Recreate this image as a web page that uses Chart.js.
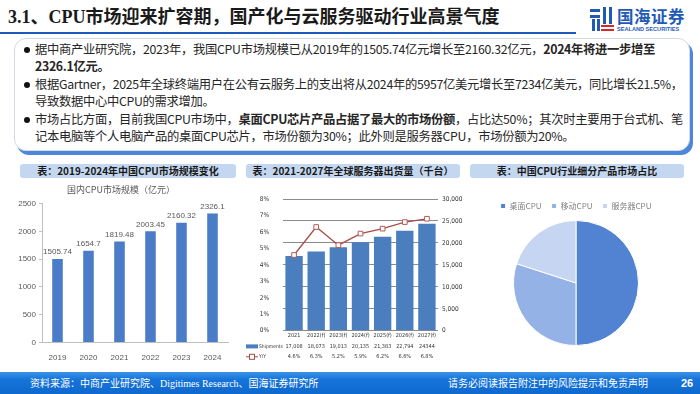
<!DOCTYPE html>
<html>
<head>
<meta charset="utf-8">
<script src="https://cdn.jsdelivr.net/npm/chart.js@4.4.1/dist/chart.umd.min.js"></script>
<style>
html, body { margin: 0; padding: 0; background: #fff; }
body { width: 700px; height: 394px; position: relative; overflow: hidden;
  font-family: "Noto Sans CJK SC", "Noto Sans", sans-serif; color: #262626; }
.title { position: absolute; left: 8px; top: 4px; font-size: 18px; font-weight: bold; line-height: 26px;
  font-family: "Liberation Serif", "Noto Sans CJK SC", serif; color: #1a1a1a; white-space: nowrap; }
.title-line { position: absolute; left: 0; top: 32px; width: 576px; height: 2px; background: #1d5cb6; }
.logo { position: absolute; left: 590px; top: 7px; width: 108px; height: 28px; }
.logo .cn { position: absolute; left: 27px; top: -3px; font-size: 16.5px; font-weight: bold; color: #1f5bb5; letter-spacing: 0.5px; }
.logo .en { position: absolute; left: 27px; top: 19px; font-size: 5.6px; font-weight: bold; color: #1f5bb5;
  font-family: "Liberation Sans", sans-serif; white-space: nowrap; }
.box { position: absolute; left: 14px; top: 38px; width: 674px; height: 111px; border: 1px solid #d3d9e2;
  border-radius: 12px; box-shadow: 3px 4px 0 #4d87d9; background: #fff; }
.box p { margin: 0 0 1px 0; padding-left: 14px; position: relative; font-size: 12.3px; letter-spacing: -0.3px;
  line-height: 17px; white-space: nowrap; }
.box p::before { content: ""; position: absolute; left: 3px; top: 6px; width: 6px; height: 6px; border-radius: 50%; background: #111; }
.box .inner { position: absolute; left: 6px; top: 2px; }
.sec { position: absolute; top: 164px; height: 14px; line-height: 14px; background: #c3d7f0; border-radius: 3px;
  text-align: center; font-size: 10px; font-weight: bold; color: #1a1a1a; white-space: nowrap; }
.chartbox { position: absolute; }
.footer { position: absolute; left: 0; top: 372px; width: 700px; height: 22px;
  background: linear-gradient(180deg, #3b93e8 0%, #1673d8 35%, #0f69cf 100%); color: #fff; font-size: 10px; line-height: 22px; }
.footer .l { position: absolute; left: 30px; }
.footer .r { position: absolute; left: 448px; }
.footer .n { position: absolute; left: 681px; font-weight: bold; font-family: "Liberation Sans", sans-serif; font-size: 11px; }
</style>
</head>
<body>

<div class="title">3.1、CPU市场迎来扩容期，国产化与云服务驱动行业高景气度</div>
<div class="title-line"></div>
<div class="logo">
  <svg width="24" height="26" viewBox="0 0 24 26">
    <rect x="0" y="2" width="10" height="3" fill="#1f5bb5"/>
    <rect x="0" y="8" width="10" height="3" fill="#1f5bb5"/>
    <rect x="2" y="12" width="3" height="12" fill="#1f5bb5"/>
    <rect x="7" y="12" width="3" height="12" fill="#1f5bb5"/>
    <rect x="13" y="0" width="3" height="17" fill="#1f5bb5"/>
    <rect x="19" y="0" width="3" height="17" fill="#1f5bb5"/>
    <rect x="11" y="18" width="13" height="2" fill="#d9262b"/>
    <rect x="11" y="22" width="13" height="2" fill="#d9262b"/>
  </svg>
  <div class="cn">国海证券</div>
  <div class="en">SEALAND SECURITIES</div>
</div>

<div class="box">
  <div class="inner">
    <p>据中商产业研究院，2023年，我国CPU市场规模已从2019年的1505.74亿元增长至2160.32亿元，<b>2024年将进一步增至<br>2326.1亿元。</b></p>
    <p>根据Gartner，2025年全球终端用户在公有云服务上的支出将从2024年的5957亿美元增长至7234亿美元，同比增长21.5%，<br>导致数据中心中CPU的需求增加。</p>
    <p>市场占比方面，目前我国CPU市场中，<b>桌面CPU芯片产品占据了最大的市场份额</b>，占比达50%；其次时主要用于台式机、笔<br>记本电脑等个人电脑产品的桌面CPU芯片，市场份额为30%；此外则是服务器CPU，市场份额为20%。</p>
  </div>
</div>

<div class="sec" style="left:20px;width:216px;">表：2019-2024年中国CPU市场规模变化</div>
<div class="sec" style="left:246px;width:214px;">表：2021-2027年全球服务器出货量（千台）</div>
<div class="sec" style="left:470px;width:214px;">表：中国CPU行业细分产品市场占比</div>

<div class="chartbox" style="left:14px;top:182px;width:222px;height:186px;"><canvas id="marketChart"></canvas></div>
<div class="chartbox" style="left:245px;top:182px;width:217px;height:186px;"><canvas id="serverChart"></canvas></div>
<div class="chartbox" style="left:470px;top:182px;width:230px;height:186px;"><canvas id="shareChart"></canvas></div>

<div class="footer">
  <span class="l">资料来源：中商产业研究院、<span style="font-family:'Liberation Serif',serif;">Digitimes Research</span>、国海证券研究所</span>
  <span class="r">请务必阅读报告附注中的风险提示和免责声明</span>
  <span class="n">26</span>
</div>

<script>
// chart 1: 国内CPU市场规模
const marketYears = ['2019', '2020', '2021', '2022', '2023', '2024']
const marketSize = [1505.74, 1654.7, 1819.48, 2003.45, 2160.32, 2326.1]

// chart 2: 全球服务器出货量
const serverYears = ['2021', '2022(f)', '2023(f)', '2024(f)', '2025(f)', '2026(f)', '2027(f)']
const serverShipments = [17008, 18073, 19013, 20135, 21383, 22794, 24344]
const serverShipmentText = ['17,008', '18,073', '19,013', '20,135', '21,383', '22,794', '24344']
const serverYoY = [4.6, 6.3, 5.2, 5.9, 6.2, 6.6, 6.8]

// chart 3: 细分产品占比
const shareNames = ['桌面CPU', '移动CPU', '服务器CPU']
const shareValues = [50, 30, 20]

Chart.defaults.animation = false
Chart.defaults.devicePixelRatio = 1
Chart.defaults.plugins.tooltip.enabled = false

const narrow = '"Liberation Sans Narrow", "DejaVu Sans Condensed", sans-serif'
const tableLine = 10.4


const barValueLabels = {
    id: 'barValueLabels',
    afterDatasetsDraw(chart) {
        const ctx = chart.ctx
        const meta = chart.getDatasetMeta(0)
        ctx.save()
        ctx.font = '8px "Liberation Sans", sans-serif'
        ctx.fillStyle = '#595959'
        ctx.textAlign = 'center'
        ctx.textBaseline = 'bottom'
        meta.data.forEach((bar, i) => {
            ctx.fillText(String(marketSize[i]), bar.x, bar.y - 3)
        })
        ctx.restore()
    }
}


// little legend at the left of the data table under the server chart
const tableLegend = {
    id: 'tableLegend',
    afterDraw(chart) {
        const ctx = chart.ctx
        const xs = chart.scales.x
        const y1 = xs.top + tableLine * 1.5
        const y2 = xs.top + tableLine * 2.5
        ctx.save()
        ctx.fillStyle = '#4a7ebf'
        ctx.fillRect(1, y1 - 2, 12, 4)
        ctx.strokeStyle = '#a94c4a'
        ctx.lineWidth = 1
        ctx.beginPath()
        ctx.moveTo(1, y2)
        ctx.lineTo(13, y2)
        ctx.stroke()
        ctx.fillStyle = '#fff'
        ctx.fillRect(4.5, y2 - 2.5, 5, 5)
        ctx.strokeRect(4.5, y2 - 2.5, 5, 5)
        ctx.fillStyle = '#333'
        ctx.font = '5px ' + narrow
        ctx.textBaseline = 'middle'
        ctx.fillText('Shipments', 14, y1)
        ctx.fillText('Y/Y', 14, y2)
        ctx.restore()
    }
}


function renderMarketChart() {
    new Chart(document.getElementById('marketChart'), {
        type: 'bar',
        data: {
            labels: marketYears,
            datasets: [{
                data: marketSize,
                backgroundColor: '#4a7cc8',
                barPercentage: 0.62,
                categoryPercentage: 0.55
            }]
        },
        options: {
            responsive: true,
            maintainAspectRatio: false,
            layout: { padding: { left: 0, right: 8, top: 0, bottom: 2 } },
            plugins: {
                legend: { display: false },
                title: {
                    display: true,
                    text: '国内CPU市场规模（亿元）',
                    color: '#595959',
                    font: { size: 9, weight: 'normal', family: '"Noto Sans CJK SC", sans-serif' },
                    padding: { top: 2, bottom: 9 }
                }
            },
            scales: {
                x: {
                    grid: { display: false },
                    border: { color: '#bfbfbf' },
                    ticks: { color: '#595959', font: { size: 8, family: '"Liberation Sans", sans-serif' }, padding: 3 }
                },
                y: {
                    min: 0,
                    max: 2500,
                    ticks: {
                        stepSize: 500,
                        color: '#595959',
                        font: { size: 8, family: '"Liberation Sans", sans-serif' },
                        padding: 3,
                        callback: (v) => String(v)
                    },
                    grid: { drawOnChartArea: false, tickLength: 3, color: '#bfbfbf' },
                    border: { color: '#bfbfbf' },
                    afterFit: (scale) => { scale.width = 28 }
                }
            }
        },
        plugins: [barValueLabels]
    })
}


function renderServerChart() {
    new Chart(document.getElementById('serverChart'), {
        data: {
            labels: serverYears,
            datasets: [{
                type: 'line',
                label: 'Y/Y',
                data: serverYoY,
                yAxisID: 'y',
                borderColor: '#a94c4a',
                borderWidth: 1.3,
                pointStyle: 'rect',
                pointRadius: 3.3,
                pointBorderWidth: 1,
                pointBackgroundColor: '#fff',
                pointBorderColor: '#b45a58',
                order: 0
            }, {
                type: 'bar',
                label: 'Shipments',
                data: serverShipments,
                yAxisID: 'y1',
                backgroundColor: '#4a7ebf',
                barPercentage: 0.8,
                categoryPercentage: 0.98,
                order: 1
            }]
        },
        options: {
            responsive: true,
            maintainAspectRatio: false,
            layout: { padding: { left: 0, right: 0, top: 17, bottom: 6 } },
            plugins: { legend: { display: false } },
            scales: {
                x: {
                    grid: { display: false, drawTicks: false },
                    border: { display: false },
                    ticks: {
                        color: '#333',
                        font: { size: 5.5, family: narrow, lineHeight: tableLine / 5.5 },
                        padding: 0,
                        maxRotation: 0,
                        autoSkip: false,
                        callback: (v, i) => [serverYears[i], serverShipmentText[i], serverYoY[i].toFixed(1) + '%']
                    }
                },
                y: {
                    position: 'left',
                    min: 0,
                    max: 8,
                    grid: { display: false },
                    border: { display: false },
                    ticks: {
                        stepSize: 1,
                        color: '#333',
                        font: { size: 6.5, family: narrow },
                        padding: 6,
                        callback: (v) => v + '%'
                    },
                    afterFit: (scale) => { scale.width = 38 }
                },
                y1: {
                    position: 'right',
                    min: 0,
                    max: 30000,
                    grid: { color: '#8c8c8c', lineWidth: 1, drawTicks: false },
                    border: { display: false },
                    ticks: {
                        stepSize: 5000,
                        color: '#333',
                        font: { size: 6.5, family: narrow },
                        padding: 4,
                        callback: (v) => v.toLocaleString('en-US')
                    },
                    afterFit: (scale) => { scale.width = 24 }
                }
            }
        },
        plugins: [tableLegend]
    })
}


function renderShareChart() {
    new Chart(document.getElementById('shareChart'), {
        type: 'pie',
        data: {
            labels: shareNames,
            datasets: [{
                data: shareValues,
                backgroundColor: ['#5282d2', '#95b2e6', '#c6d6f2'],
                borderColor: '#fff',
                borderWidth: 1
            }]
        },
        options: {
            responsive: true,
            maintainAspectRatio: false,
            layout: { padding: { left: 0, right: 18, top: 10, bottom: 22 } },
            plugins: {
                legend: {
                    position: 'top',
                    labels: {
                        color: '#7f7f7f',
                        font: { size: 8, family: '"Noto Sans CJK SC", sans-serif' },
                        boxWidth: 5,
                        boxHeight: 5,
                        padding: 10
                    }
                }
            }
        }
    })
}

renderMarketChart()
renderServerChart()
renderShareChart()
</script>
</body>
</html>
